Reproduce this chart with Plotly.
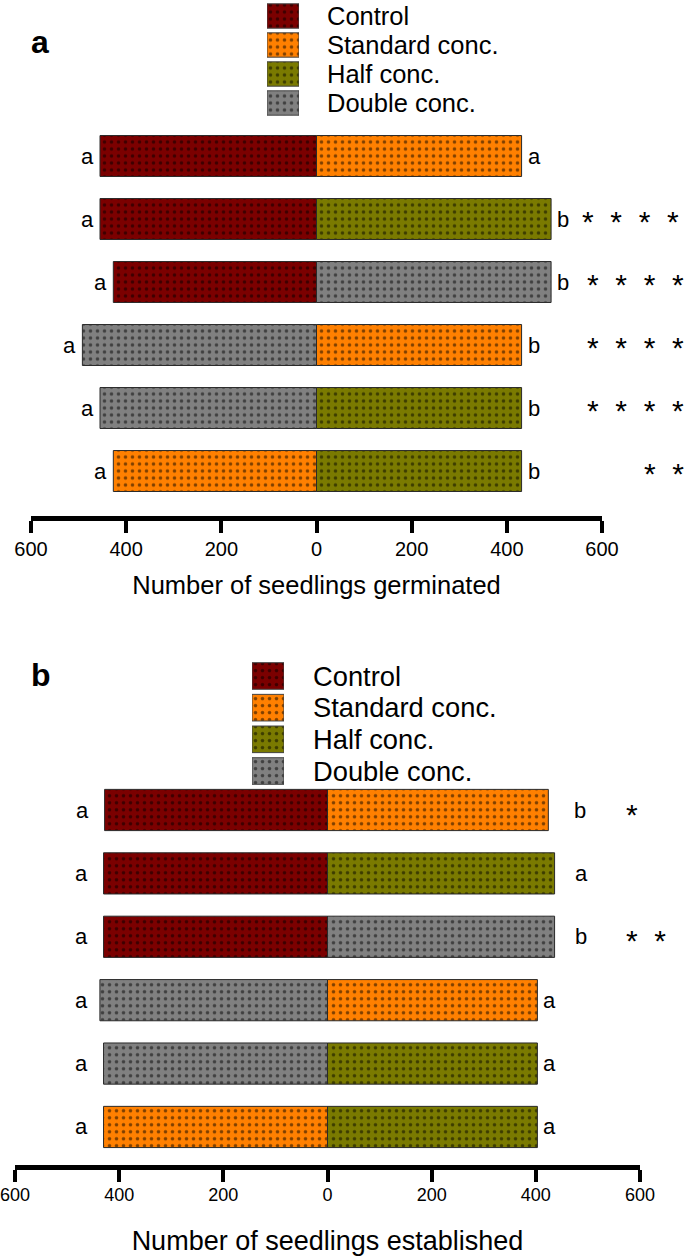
import plotly.graph_objects as go

# ---------------- data ----------------
treatments = ["Control", "Standard conc.", "Half conc.", "Double conc."]
colors = ["#7b0000", "#ff8000", "#7a7a00", "#808080"]

# comparison rows, top to bottom (same in both panels)
left_treat = ["Control", "Control", "Control", "Double conc.", "Double conc.", "Standard conc."]
right_treat = ["Standard conc.", "Half conc.", "Double conc.", "Standard conc.", "Half conc.", "Half conc."]

# panel a: seedlings germinated
germ_left = [455, 455, 427, 492, 455, 427]
germ_right = [431, 493, 493, 431, 431, 431]
germ_letters_left = ["a", "a", "a", "a", "a", "a"]
germ_letters_right = ["a", "b", "b", "b", "b", "b"]
germ_stars = ["", "****", "****", "****", "****", "**"]

# panel b: seedlings established
est_left = [428, 430, 430, 437, 430, 430]
est_right = [424, 436, 436, 403, 403, 403]
est_letters_left = ["a", "a", "a", "a", "a", "a"]
est_letters_right = ["b", "a", "b", "a", "a", "a"]
est_stars = ["*", "", "**", "", "", ""]

tick_vals = [-600, -400, -200, 0, 200, 400, 600]
tick_text = ["600", "400", "200", "0", "200", "400", "600"]

FONT = "Liberation Sans, Arial, sans-serif"
W, H = 685, 1259

fig = go.Figure()


def pattern(c):
    return dict(shape=".", fgcolor="black", bgcolor=c, size=7, solidity=0.2, fillmode="overlay")


def add_panel(xref, yref, left, right):
    for t, c in zip(treatments, colors):
        xs, ys = [], []
        for i, (lt, rt) in enumerate(zip(left_treat, right_treat)):
            if lt == t:
                xs.append(-left[i]); ys.append(i)
            if rt == t:
                xs.append(right[i]); ys.append(i)
        fig.add_trace(go.Bar(
            x=xs, y=ys, orientation="h", width=0.65, xaxis=xref, yaxis=yref,
            marker=dict(color=c, pattern=pattern(c), line=dict(color="#2a2a2a", width=1)),
            showlegend=False, hoverinfo="skip"))


add_panel("x", "y", germ_left, germ_right)
add_panel("x2", "y2", est_left, est_right)

# legend swatches as bars on hidden axes
for xr, yr in (("x3", "y3"), ("x4", "y4")):
    for t, c in zip(treatments, colors):
        fig.add_trace(go.Bar(
            x=[1], y=[t], orientation="h", width=0.84, xaxis=xr, yaxis=yr,
            marker=dict(color=c, pattern=pattern(c), line=dict(color="#444", width=1)),
            showlegend=False, hoverinfo="skip"))

axis_common = dict(
    range=[-600, 600], tickvals=tick_vals, ticktext=tick_text,
    showline=True, linecolor="black", linewidth=5,
    ticks="outside", ticklen=12, tickwidth=4, tickcolor="black",
    showgrid=False, zeroline=False, color="black", automargin=False,
    ticklabeloverflow="allow",
)

legend_y = dict(
    side="right", categoryorder="array", categoryarray=treatments,
    tickmode="array", tickvals=treatments, ticktext=treatments,
    range=[3.5, -0.5], showline=False, showgrid=False, zeroline=False,
    ticks="", automargin=False,
)

fig.update_layout(
    width=W, height=H,
    margin=dict(l=0, r=0, t=0, b=0, autoexpand=False),
    paper_bgcolor="white", plot_bgcolor="rgba(0,0,0,0)",
    barmode="overlay",
    font=dict(family=FONT, color="black"),
    xaxis=dict(axis_common, domain=[31 / W, 602 / W], anchor="y",
               tickfont=dict(size=20), ticklabelstandoff=-1,
               title=dict(text="Number of seedlings germinated", font=dict(size=25.5), standoff=19)),
    yaxis=dict(domain=[1 - 516 / H, 1 - 124.5 / H], range=[5.714, -0.5], anchor="x",
               visible=False, showgrid=False, zeroline=False, automargin=False),
    xaxis2=dict(axis_common, domain=[15 / W, 640 / W], anchor="y2",
                tickfont=dict(size=18), ticklabelstandoff=-3,
                title=dict(text="Number of seedlings established", font=dict(size=27), standoff=29)),
    yaxis2=dict(domain=[1 - 1165 / H, 1 - 778.3 / H], range=[5.6, -0.5], anchor="x2",
                visible=False, showgrid=False, zeroline=False, automargin=False),
    xaxis3=dict(domain=[267 / W, 299 / W], range=[0, 1], anchor="y3", visible=False,
                automargin=False),
    yaxis3=dict(legend_y, domain=[1 - 117.5 / H, 1 - 1.5 / H], anchor="x3",
                tickfont=dict(size=25.5), ticklabelstandoff=27),
    xaxis4=dict(domain=[252 / W, 284 / W], range=[0, 1], anchor="y4", visible=False,
                automargin=False),
    yaxis4=dict(legend_y, domain=[1 - 786.85 / H, 1 - 660.15 / H], anchor="x4",
                tickfont=dict(size=27.3), ticklabelstandoff=28),
)

ann = []
# panel letters
ann.append(dict(text="<b>a</b>", x=29 / W, y=1 - 42 / H, xref="paper", yref="paper",
                xanchor="left", yanchor="middle", showarrow=False, font=dict(size=32)))
ann.append(dict(text="<b>b</b>", x=29 / W, y=1 - 675 / H, xref="paper", yref="paper",
                xanchor="left", yanchor="middle", showarrow=False, font=dict(size=32)))

NB = "\u00a0"


def star_text(s):
    return (NB * 2).join(list(s))


# right edge (px) of each star group in panel a
star_right_a = [686, 681, 686, 686, 686, 686]

# panel a significance letters
for i in range(6):
    ann.append(dict(text=germ_letters_left[i], x=-germ_left[i], y=i, xref="x", yref="y",
                    xanchor="right", yanchor="middle", xshift=-4, showarrow=False,
                    font=dict(size=22)))
    ann.append(dict(text=germ_letters_right[i], x=germ_right[i], y=i, xref="x", yref="y",
                    xanchor="left", yanchor="middle", xshift=4, showarrow=False,
                    font=dict(size=22)))
    if germ_stars[i]:
        ann.append(dict(text=star_text(germ_stars[i]), x=star_right_a[i] / W, y=i,
                        xref="paper", yref="y",
                        xanchor="right", yanchor="middle", yshift=-2, showarrow=False,
                        font=dict(size=30)))

# panel b significance letters (placed in fixed columns)
b_left_shift = [-14, -14, -14, -10, -14, -14]
b_right_shift = [24, 18, 18, 4, 4, 4]
for i in range(6):
    ann.append(dict(text=est_letters_left[i], x=-est_left[i], y=i, xref="x2", yref="y2",
                    xanchor="right", yanchor="middle", xshift=b_left_shift[i], showarrow=False,
                    font=dict(size=22)))
    ann.append(dict(text=est_letters_right[i], x=est_right[i], y=i, xref="x2", yref="y2",
                    xanchor="left", yanchor="middle", xshift=b_right_shift[i], showarrow=False,
                    font=dict(size=22)))
    if est_stars[i]:
        ann.append(dict(text=star_text(est_stars[i]), x=624 / W, y=i, xref="paper", yref="y2",
                        xanchor="left", yanchor="middle", yshift=-4, showarrow=False,
                        font=dict(size=30)))

fig.update_layout(annotations=ann)
fig.write_html("out.html", config={"displayModeBar": False},
               post_script="document.body.style.margin='0';document.body.style.overflow='hidden';")
